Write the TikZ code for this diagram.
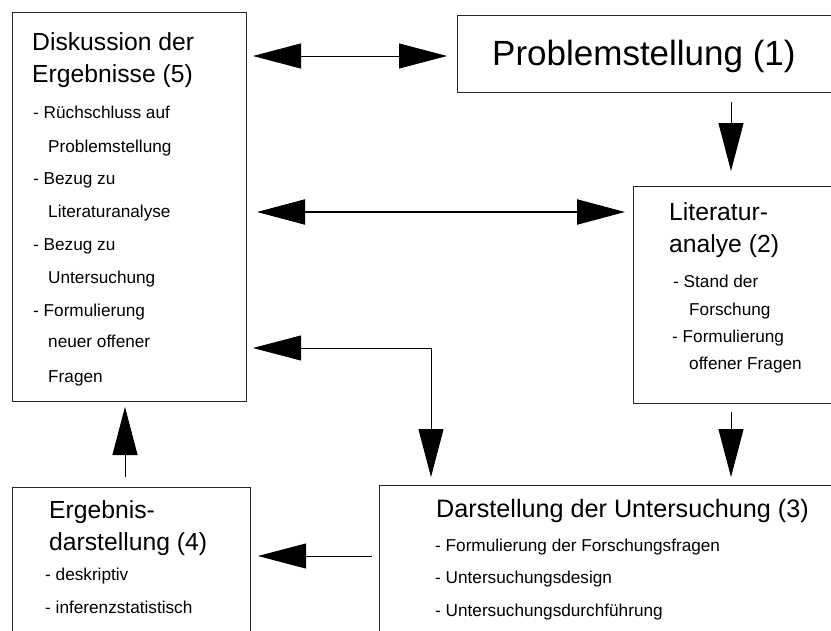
\documentclass[tikz,border=0pt]{standalone}
\usepackage{fontspec}
\setmainfont{Liberation Sans}
\usetikzlibrary{arrows.meta}
\begin{document}
\begin{tikzpicture}[x=1pt,y=-1pt,
  box/.style={draw=black!85, line width=0.9pt, anchor=north west, inner sep=0pt, outer sep=0pt},
  tri/.tip={Triangle[length=48pt,width=25pt]},
  conn/.style={line width=0.9pt, -tri},
  dconn/.style={line width=0.9pt, tri-tri},
  head/.style={anchor=base west, inner sep=0pt, font=\fontsize{24.7}{29}\selectfont},
  big/.style={anchor=base west, inner sep=0pt, font=\fontsize{35}{40}\selectfont},
  item/.style={anchor=base west, inner sep=0pt, font=\fontsize{17.2}{20}\selectfont},
]
\useasboundingbox (0,0) rectangle (831,630);
\clip (0,0) rectangle (831,630);

% boxes
\node[box, minimum width=234pt, minimum height=389pt] (b5) at (12,12) {};
\node[box, minimum width=390pt, minimum height=77pt] (b1) at (457,15) {};
\node[box, minimum width=220pt, minimum height=217pt] (b2) at (633,186) {};
\node[box, minimum width=470pt, minimum height=160pt] (b3) at (379,485) {};
\node[box, minimum width=238pt, minimum height=160pt] (b4) at (12,487) {};

% texts box 5
\node[head] (t5a) at (32,50) {Diskussion der};
\node[head] (t5b) at (32,82) {Ergebnisse (5)};
\node[item] (t5c) at (33,118) {- Rüchschluss auf};
\node[item] (t5d) at (48,152) {Problemstellung};
\node[item] (t5e) at (33,184) {- Bezug zu};
\node[item] (t5f) at (48,217) {Literaturanalyse};
\node[item] (t5g) at (33,250) {- Bezug zu};
\node[item] (t5h) at (48,283) {Untersuchung};
\node[item] (t5i) at (33,316) {- Formulierung};
\node[item] (t5j) at (48,347) {neuer offener};
\node[item] (t5k) at (48,382) {Fragen};

% box 1
\node[big] (t1a) at (492,65) {Problemstellung (1)};

% box 2
\node[head] (t2a) at (669,220) {Literatur-};
\node[head] (t2b) at (669,252) {analye (2)};
\node[item] (t2c) at (673,287) {- Stand der};
\node[item] (t2d) at (689,315) {Forschung};
\node[item] (t2e) at (672,342) {- Formulierung};
\node[item] (t2f) at (689,369) {offener Fragen};

% box 3
\node[head, font=\fontsize{25.2}{30}\selectfont] (t3a) at (436,517) {Darstellung der Untersuchung (3)};
\node[item] (t3b) at (435,551) {- Formulierung der Forschungsfragen};
\node[item] (t3c) at (435,583) {- Untersuchungsdesign};
\node[item] (t3d) at (435,616) {- Untersuchungsdurchführung};

% box 4
\node[head] (t4a) at (49,518) {Ergebnis-};
\node[head] (t4b) at (49,550) {darstellung (4)};
\node[item] (t4c) at (45,580) {- deskriptiv};
\node[item] (t4d) at (45,613) {- inferenzstatistisch};

% connectors
\draw[dconn, shorten <=7pt, shorten >=10pt] (b5.east |- 0,56) -- (b1.west |- 0,56);
\draw[dconn, line width=2pt, shorten <=11pt, shorten >=8pt] (b5.east |- 0,212) -- (b2.west |- 0,212);
\draw[conn, shorten <=10pt, shorten >=15pt] (731,0 |- b1.south) -- (731,0 |- b2.north);
\coordinate (corner) at (431,348);
\draw[dconn, shorten <=7pt, shorten >=8pt] (b5.east |- corner) -- (corner) -- (corner |- b3.north);
\draw[conn, shorten <=9pt, shorten >=8pt] (731,0 |- b2.south) -- (731,0 |- b3.north);
\draw[conn, shorten <=10pt, shorten >=6pt] (125,0 |- b4.north) -- (125,0 |- b5.south);
\draw[conn, shorten <=7pt, shorten >=8pt] (b3.west |- 0,556) -- (b4.east |- 0,556);
\end{tikzpicture}
\end{document}
